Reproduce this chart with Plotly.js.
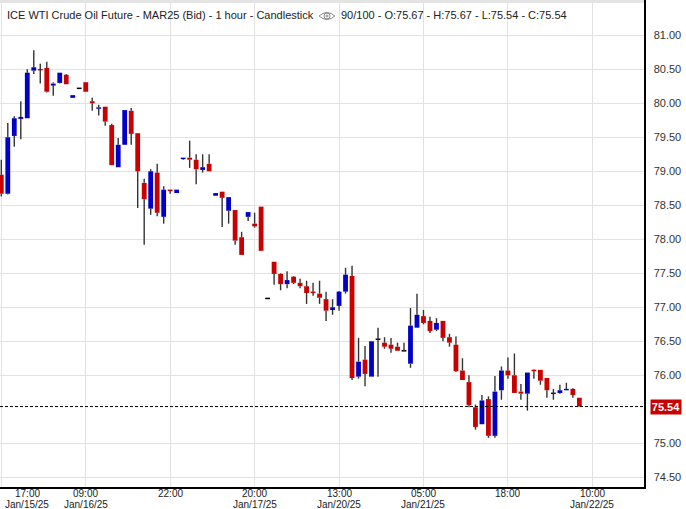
<!DOCTYPE html>
<html><head><meta charset="utf-8">
<script src="https://cdn.plot.ly/plotly-3.0.1.min.js"></script>
<style>html,body{margin:0;padding:0;background:#fff;overflow:hidden}#chart{width:686px;height:509px}</style>
</head><body><div id="chart"></div>
<script>
// OHLC values, one per 1-hour bar (90 bars)
const openP = [78.95,78.67,79.52,79.77,79.78,80.48,80.50,80.52,80.26,80.30,
  80.42,80.08,80.22,80.31,80.03,79.92,79.95,79.68,79.06,79.39,
  79.89,79.56,78.83,78.45,78.98,78.33,78.73,78.68,79.18,79.20,
  79.17,79.02,79.11,78.64,78.70,78.42,78.43,78.03,78.33,78.23,
  78.48,77.13,77.67,77.49,77.34,77.45,77.36,77.31,77.23,77.20,
  77.12,76.96,77.02,77.23,77.46,75.98,76.23,75.98,76.53,76.48,
  76.45,76.42,76.36,76.17,76.70,76.87,76.80,76.67,76.80,76.56,
  76.45,76.07,75.90,75.53,75.28,75.65,75.11,75.78,76.07,76.00,
  75.76,75.73,76.08,76.08,75.96,75.73,75.74,75.78,75.80,75.67];
const highP = [79.17,79.71,79.81,80.03,80.50,80.78,80.58,80.61,80.31,80.45,
  80.43,80.12,80.22,80.31,80.08,79.98,79.95,79.70,79.49,79.90,
  79.93,79.56,78.89,79.03,79.11,78.78,78.73,78.73,79.20,79.45,
  79.25,79.25,79.25,78.68,78.70,78.62,78.43,78.11,78.40,78.39,
  78.48,77.13,77.67,77.50,77.53,77.46,77.42,77.39,77.36,77.39,
  77.23,77.12,77.24,77.58,77.61,76.55,76.43,76.50,76.70,76.56,
  76.55,76.48,76.48,76.99,77.20,76.96,76.86,76.84,76.80,76.61,
  76.57,76.25,76.00,75.57,75.71,75.69,75.99,76.13,76.26,76.32,
  75.87,76.04,76.09,76.08,75.96,75.80,75.86,75.89,75.81,75.67];
const lowP = [78.63,78.66,79.36,79.47,79.78,80.43,80.29,80.16,80.11,80.29,
  80.28,80.08,80.22,80.17,79.89,79.82,79.67,79.09,79.06,79.39,
  79.39,78.46,77.92,78.36,78.34,78.23,78.67,78.68,79.17,79.05,
  78.81,78.98,79.00,78.64,78.18,78.23,77.92,77.77,78.27,78.17,
  77.83,77.13,77.33,77.25,77.28,77.34,77.28,77.05,77.17,77.05,
  76.80,76.89,76.95,77.20,75.93,75.95,75.84,75.98,75.98,76.39,
  76.33,76.36,76.36,76.11,76.70,76.75,76.62,76.65,76.50,76.42,
  76.05,75.93,75.53,75.20,75.28,75.08,75.08,75.64,75.95,75.74,
  75.64,75.48,75.95,75.86,75.67,75.64,75.73,75.78,75.67,75.54];
const closeP = [78.67,79.50,79.78,79.80,80.45,80.53,80.49,80.17,80.29,80.45,
  80.28,80.12,80.22,80.17,80.00,79.94,79.73,79.09,79.39,79.90,
  79.55,79.00,78.59,79.00,78.39,78.73,78.71,78.73,79.20,79.17,
  79.03,79.06,79.00,78.68,78.61,78.62,77.98,77.77,78.40,78.19,
  77.83,77.13,77.49,77.34,77.40,77.36,77.31,77.21,77.21,77.14,
  76.95,77.00,77.23,77.48,75.96,76.20,76.02,76.50,76.53,76.42,
  76.39,76.36,76.36,76.73,76.89,76.77,76.65,76.77,76.55,76.48,
  76.06,75.93,75.56,75.24,75.63,75.11,75.76,76.07,76.00,75.74,
  75.73,76.04,76.06,75.92,75.78,75.74,75.78,75.80,75.71,75.54];

// x-axis labels (every 13 bars)
const tickIdx  = [0, 13, 26, 39, 52, 65, 78, 91];
const tickTime = ['17:00','09:00','22:00','20:00','13:00','05:00','18:00','10:00'];
const tickDate = ['Jan/15/25','Jan/16/25','','Jan/17/25','Jan/20/25','Jan/21/25','','Jan/22/25'];
// price-axis labels (75.50 is hidden behind the last-price tag)
const yTicks = [74.5, 75.0, 76.0, 76.5, 77.0, 77.5, 78.0, 78.5, 79.0, 79.5, 80.0, 80.5, 81.0, 81.5];

const headerLeft  = 'ICE WTI Crude Oil Future - MAR25 (Bid) - 1 hour - Candlestick';
const headerRight = '90/100 - O:75.67 - H:75.67 - L:75.54 - C:75.54';

const UP = '#0000c8', DOWN = '#c80000', FLAT = '#000000', WICK = '#333333';
const FONT = 'Liberation Sans, Arial, sans-serif';

const n = closeP.length;
const xs = openP.map((_, i) => i);
const minBody = 0.022;
const bodyBase = [], bodyH = [], bodyCol = [];
const wx = [], wy = [];
for (let i = 0; i < n; i++) {
  const o = openP[i], c = closeP[i];
  const top = Math.max(o, c), bot = Math.min(o, c);
  const h = Math.max(top - bot, minBody);
  bodyBase.push(bot - (h - (top - bot)) / 2);
  bodyH.push(h);
  bodyCol.push(c > o ? UP : (c < o ? DOWN : FLAT));
  if (highP[i] > top) { wx.push(i, i, null); wy.push(highP[i], top, null); }
  if (lowP[i] < bot) { wx.push(i, i, null); wy.push(bot, lowP[i], null); }
}

const traces = [
  { type: 'scatter', mode: 'lines', x: wx, y: wy, line: { color: WICK, width: 1.4 },
    hoverinfo: 'skip', connectgaps: false },
  { type: 'bar', x: xs, y: bodyH, base: bodyBase, width: 0.74,
    marker: { color: bodyCol, line: { width: 0 } }, hoverinfo: 'skip' }
];

const annotations = [];
tickIdx.forEach((t, k) => {
  const shift = k === 0 ? 26 : 0;
  annotations.push({ xref: 'x', yref: 'paper', x: t, y: 0, yanchor: 'middle', xanchor: 'center',
    yshift: -6.5, xshift: shift, text: tickTime[k], showarrow: false, borderpad: 0,
    font: { family: FONT, size: 10, color: '#222' } });
  if (tickDate[k]) annotations.push({ xref: 'x', yref: 'paper', x: t, y: 0, yanchor: 'middle', xanchor: 'center',
    yshift: -17, xshift: shift, text: tickDate[k], showarrow: false, borderpad: 0,
    font: { family: FONT, size: 10, color: '#222' } });
});
annotations.push({ xref: 'paper', yref: 'paper', x: 0, y: 1, xanchor: 'left', yanchor: 'middle',
  xshift: 5, yshift: -15, text: headerLeft, showarrow: false,
  font: { family: FONT, size: 11, color: '#222' } });
annotations.push({ xref: 'paper', yref: 'paper', x: 0, y: 1, xanchor: 'left', yanchor: 'middle',
  xshift: 339, yshift: -15, text: headerRight, showarrow: false,
  font: { family: FONT, size: 11, color: '#222' } });
annotations.push({ xref: 'paper', yref: 'y', x: 1, y: closeP[n - 1], xanchor: 'left', yanchor: 'middle',
  xshift: 6, text: '<b>' + closeP[n - 1].toFixed(2) + '</b>', showarrow: false,
  bgcolor: DOWN, width: 30, height: 14, borderpad: 0,
  font: { family: FONT, size: 11, color: '#fff' } });

const shapes = [
  { type: 'line', xref: 'paper', yref: 'y', x0: 0, x1: 1, y0: closeP[n - 1], y1: closeP[n - 1],
    line: { color: '#000', width: 1, dash: '3px,2px' } },
  { type: 'rect', xref: 'paper', yref: 'paper', x0: 0, x1: 1,
    ysizemode: 'pixel', yanchor: 1, y0: -3, y1: 0, fillcolor: '#e4e4e4', line: { width: 0 } },
  // eye icon
  { type: 'path', xref: 'paper', yref: 'paper', xsizemode: 'pixel', ysizemode: 'pixel', xanchor: 0, yanchor: 1,
    path: 'M319,-16 Q327,-9 335,-16 Q327,-23 319,-16 Z', line: { color: '#8a8a8a', width: 1 } },
  { type: 'circle', xref: 'paper', yref: 'paper', xsizemode: 'pixel', ysizemode: 'pixel', xanchor: 0, yanchor: 1,
    x0: 324, x1: 330, y0: -13, y1: -19, line: { color: '#8a8a8a', width: 1 } },
  { type: 'circle', xref: 'paper', yref: 'paper', xsizemode: 'pixel', ysizemode: 'pixel', xanchor: 0, yanchor: 1,
    x0: 326, x1: 328, y0: -15, y1: -17, line: { color: '#8a8a8a', width: 1 } }
];

const layout = {
  width: 686, height: 509,
  margin: { l: 0, r: 42, t: 0, b: 22 },
  paper_bgcolor: '#fff', plot_bgcolor: '#fff',
  showlegend: false, hovermode: false,
  xaxis: { range: [-0.2, 98.95], tickmode: 'array', tickvals: tickIdx, showticklabels: false,
    showgrid: true, gridcolor: '#e2e2e2', gridwidth: 1, zeroline: false,
    showline: true, linecolor: '#000', linewidth: 1.5, ticks: '' },
  yaxis: { side: 'right', range: [74.357, 81.519], tickmode: 'array', tickvals: yTicks,
    ticktext: yTicks.map(v => v.toFixed(2)),
    showgrid: true, gridcolor: '#e2e2e2', gridwidth: 1, zeroline: false,
    showline: true, linecolor: '#000', linewidth: 1.5,
    ticks: 'outside', ticklen: 6, tickcolor: 'rgba(0,0,0,0)',
    tickfont: { family: FONT, size: 11, color: '#333' } },
  annotations: annotations,
  shapes: shapes
};

Plotly.newPlot('chart', traces, layout, { displayModeBar: false, staticPlot: true });
</script>
</body></html>
